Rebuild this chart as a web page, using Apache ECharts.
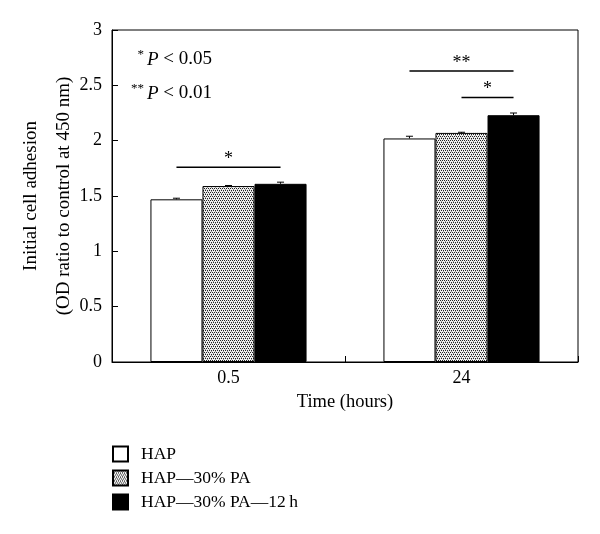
<!DOCTYPE html>
<html><head><meta charset="utf-8">
<script src="https://cdn.jsdelivr.net/npm/echarts@6/dist/echarts.min.js"></script>
<style>html,body{margin:0;padding:0;background:#fff}#c{width:600px;height:534px}</style>
</head><body><div id="c"></div>
<script>
var categories = ['0.5', '24'];
var seriesNames = ['HAP', 'HAP\u201430% PA', 'HAP\u201430% PA\u201412\u2009h'];
var hap = [1.47, 2.02];
var hapPA = [1.59, 2.07];
var hapPA12 = [1.61, 2.23];
var errHap = [0.01, 0.02];
var errHapPA = [0.005, 0.006];
var errHapPA12 = [0.015, 0.02];
var yTicks = [0, 0.5, 1, 1.5, 2, 2.5, 3];
// significance brackets: [categoryIndex, fromBar, toBar, yValue, label]
var sigBrackets = [[0, 0, 2, 1.76, '*'], [1, 0, 2, 2.63, '**'], [1, 1, 2, 2.39, '*']];

var FONT = '"Liberation Serif","DejaVu Serif",serif';
var pat = document.createElement('canvas');
pat.width = 4; pat.height = 4;
var pc = pat.getContext('2d');
pc.fillStyle = '#f0f0f0'; pc.fillRect(0,0,4,4);
pc.fillStyle = '#222';
[[0,0],[2,0],[1,2],[3,2]].forEach(function(p){pc.fillRect(p[0],p[1],1,1);});
pc.fillStyle = '#999';
[[1,1],[3,3]].forEach(function(p){pc.fillRect(p[0],p[1],1,1);});

var values = [hap, hapPA, hapPA12];
var errs = [errHap, errHapPA, errHapPA12];
var fills = ['#fff', {image: pat, repeat: 'repeat'}, '#000'];
var GAP = 0.33;

function barCenter(api, cat, bar, y) {
  var c = api.coord([cat, y]);
  var band = api.size([1, 0])[0];
  var w = band * (1 - GAP) / 3;
  return {x: c[0] - 1.5 * w + (bar + 0.5) * w, y: c[1], w: w};
}

var series = [];
for (var i = 0; i < 3; i++) {
  series.push({
    name: seriesNames[i], type: 'bar', data: values[i],
    barGap: '0%', barCategoryGap: (GAP * 100) + '%',
    itemStyle: {color: fills[i], borderColor: '#000', borderWidth: 1},
    emphasis: {disabled: true}, z: 2
  });
}
var errData = [];
for (var i = 0; i < 3; i++) for (var j = 0; j < 2; j++) errData.push([j, i, values[i][j], errs[i][j]]);
series.push({
  type: 'custom', silent: true, z: 5,
  data: errData,
  renderItem: function (params, api) {
    var cat = api.value(0), bar = api.value(1), v = api.value(2), e = api.value(3);
    var top = barCenter(api, cat, bar, v + e);
    var base = barCenter(api, cat, bar, v);
    var x = top.x, cw = 3.5;
    return {type: 'group', children: [
      {type: 'line', shape: {x1: x, y1: base.y, x2: x, y2: top.y}, style: {stroke: '#000', lineWidth: 1}},
      {type: 'line', shape: {x1: x - cw, y1: top.y, x2: x + cw, y2: top.y}, style: {stroke: '#000', lineWidth: 1}}
    ]};
  }
});
series.push({
  type: 'custom', silent: true, z: 5,
  data: sigBrackets,
  renderItem: function (params, api) {
    var b = sigBrackets[params.dataIndex];
    var a = barCenter(api, b[0], b[1], b[3]);
    var c = barCenter(api, b[0], b[2], b[3]);
    return {type: 'group', children: [
      {type: 'line', shape: {x1: a.x, y1: a.y, x2: c.x, y2: c.y}, style: {stroke: '#000', lineWidth: 1.5}},
      {type: 'text', x: (a.x + c.x) / 2, y: a.y + 1, style: {text: b[4], textAlign: 'center', textVerticalAlign: 'bottom', font: '18px ' + FONT, fill: '#000'}}
    ]};
  }
});

var chart = echarts.init(document.getElementById('c'));
chart.setOption({
  animation: false,
  backgroundColor: '#fff',
  grid: {left: 112, right: 22, top: 30, bottom: 172, containLabel: false, outerBoundsMode: 'none',
    show: true, borderColor: '#000', borderWidth: 1, backgroundColor: 'transparent'},
  xAxis: {
    type: 'category', data: categories,
    name: 'Time (hours)', nameLocation: 'middle', nameGap: 31, nameMoveOverlap: false,
    nameTextStyle: {fontFamily: FONT, fontSize: 18.5, color: '#000'},
    axisLine: {lineStyle: {color: '#000', width: 1}},
    axisTick: {show: true, inside: true, length: 6, lineStyle: {color: '#000'}},
    axisLabel: {fontFamily: FONT, fontSize: 18, color: '#000', margin: 7}
  },
  yAxis: {
    type: 'value', min: 0, max: 3, interval: 0.5,
    name: 'Initial cell adhesion\n(OD ratio to control at 450 nm)', nameLocation: 'middle', nameGap: 31,
    nameMoveOverlap: false,
    nameTextStyle: {fontFamily: FONT, fontSize: 19, color: '#000', lineHeight: 33},
    axisLine: {show: true, lineStyle: {color: '#000', width: 1}},
    axisTick: {show: true, inside: true, length: 6, lineStyle: {color: '#000'}},
    splitLine: {show: false},
    axisLabel: {fontFamily: FONT, fontSize: 18, color: '#000', margin: 10,
      formatter: function (v) { return yTicks.indexOf(v) >= 0 ? String(v) : ''; }}
  },
  legend: {
    orient: 'vertical', left: 112, top: 445, itemGap: 6, itemWidth: 15, itemHeight: 15,
    padding: 0,
    icon: 'rect', data: seriesNames,
    textStyle: {fontFamily: FONT, fontSize: 17.5, color: '#000', padding: [0, 0, 0, 8]},
    selectedMode: false
  },
  graphic: [
    {type: 'text', right: 600 - 144, top: 48, style: {text: '*', font: '13px ' + FONT, fill: '#000'}},
    {type: 'text', left: 147, top: 50, style: {text: '{i|P} < 0.05', font: '19px ' + FONT, fill: '#000',
      rich: {i: {fontStyle: 'italic', fontSize: 19, fontFamily: FONT}}}},
    {type: 'text', right: 600 - 144, top: 82, style: {text: '**', font: '13px ' + FONT, fill: '#000'}},
    {type: 'text', left: 147, top: 84, style: {text: '{i|P} < 0.01', font: '19px ' + FONT, fill: '#000',
      rich: {i: {fontStyle: 'italic', fontSize: 19, fontFamily: FONT}}}}
  ],
  series: series
});
</script></body></html>
